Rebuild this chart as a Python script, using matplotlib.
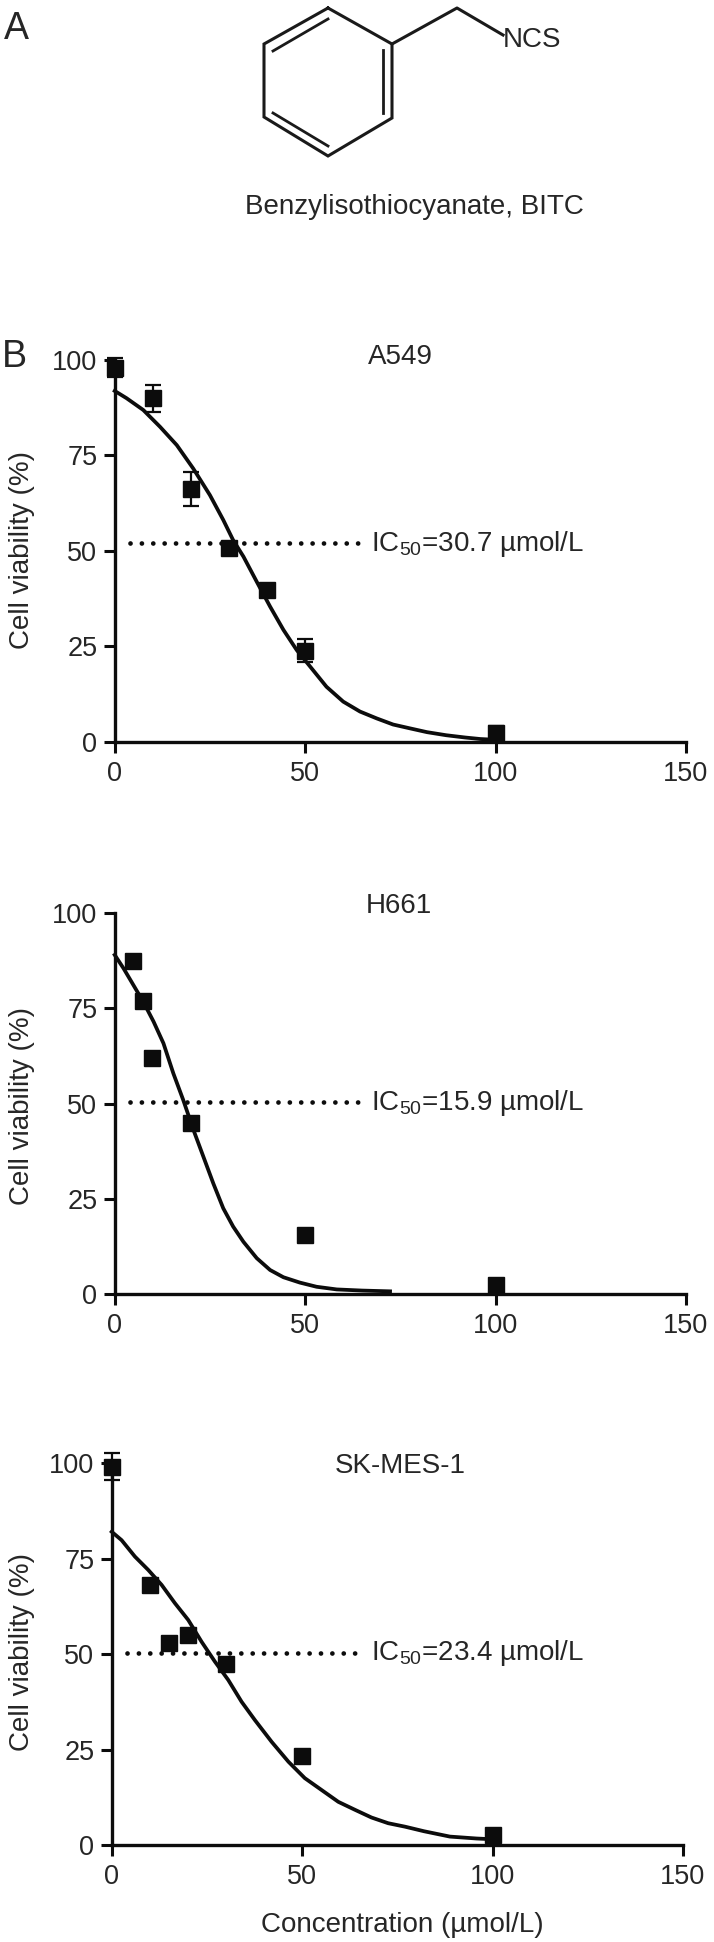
import matplotlib
matplotlib.use("Agg")
import matplotlib.pyplot as plt

plt.rcParams['font.family'] = ['Liberation Sans', 'DejaVu Sans']
plt.rcParams['mathtext.fontset'] = 'custom'
plt.rcParams['mathtext.rm'] = 'Liberation Sans'
plt.rcParams['mathtext.default'] = 'rm'

W = 714
H = 1942
INK = '#0c0c0c'
TXT = '#262626'

# values
a549_x = [0, 10, 20, 30, 40, 50, 100]
a549_y = [98, 90, 66.2, 50.7, 39.7, 23.8, 2.2]
a549_err = [2.5, 3.5, 4.5, 1, 1, 3, 2]
a549_fit_x = [0, 3.1, 7.5, 11.9, 16.3, 20.6, 25, 28.5, 31.1, 33.8, 37.3, 40.8, 44.3, 47.8, 51.3,
              55.6, 60, 64.4, 68.8, 73.1, 77.5, 82, 87, 92, 96, 100]
a549_fit_y = [91.9, 90, 86.9, 82.5, 77.7, 71.6, 64.6, 58.1, 52.8, 48.5, 41.9, 35.4, 29.3, 24, 19.7,
              14.4, 10.5, 7.9, 6.1, 4.5, 3.5, 2.5, 1.7, 1.1, 0.7, 0.5]
a549_ic = 52

h661_x = [4.7, 7.3, 9.8, 20, 50, 100]
h661_y = [87.5, 76.8, 62, 45, 15.5, 2.4]
h661_err = [0.5, 1, 1, 1, 1, 1.5]
h661_fit_x = [0, 2.3, 4.9, 7.5, 10.2, 12.8, 15.4, 18, 20.7, 23.3, 25.9, 28.5, 31.1, 33.8, 37.3,
              40.8, 44.3, 48.6, 53, 58.3, 65, 72.3]
h661_fit_y = [89, 85.5, 81.1, 76.7, 71.5, 65.8, 57.9, 50.9, 43, 36, 29, 22.5, 17.7, 13.7, 9.4,
              6.3, 4.4, 3, 1.9, 1.2, 0.9, 0.7]
h661_ic = 50.5

sk_x = [0, 10, 15, 20, 30, 50, 100]
sk_y = [99, 68, 52.8, 55, 47.5, 23.3, 2.5]
sk_err = [3.5, 1, 1.5, 1, 1, 1, 1]
sk_fit_x = [0, 2.6, 6.1, 9.6, 13.1, 16.6, 20.1, 23.6, 27.1, 30.6, 34.1, 37.6, 42, 46.4, 50.7,
            55.1, 59.5, 63.9, 68.2, 72.6, 77, 82, 88.8, 95.8, 100]
sk_fit_y = [82, 79.8, 75.5, 72, 68.1, 63.3, 58.9, 53.2, 48, 43.2, 37.5, 32.7, 27, 21.8, 17.5,
            14.4, 11.3, 9.2, 7.2, 5.7, 4.8, 3.6, 2.2, 1.7, 1.5]
sk_ic = 50.3

x_ticks = [0, 50, 100, 150]
y_ticks = [0, 25, 50, 75, 100]

# ring and side chain of the molecule, in picture pixels
ring = [(328, 8), (392, 44), (392, 118), (328, 156), (264, 117), (264, 44), (328, 8)]
inner_bonds = [[(273, 51), (328, 19)], [(383, 50), (383, 113)], [(273, 113), (328, 146)]]
side_chain = [(392, 44), (457, 8), (503, 35)]

fig = plt.figure(figsize=(W / 100, H / 100), dpi=100, facecolor='white')

over = fig.add_axes([0, 0, 1, 1])
over.set_xlim(0, W)
over.set_ylim(H, 0)
over.axis('off')


def panel(x0, x150, ytop, ybot, xs, ys, errs, fit_x, fit_y, ic, ic_range):
    ax = fig.add_axes([x0 / W, 1 - ybot / H, (x150 - x0) / W, (ybot - ytop) / H])
    ax.set_xlim(0, 150)
    ax.set_ylim(0, 100)
    ax.patch.set_alpha(0)
    for s in ['top', 'right']:
        ax.spines[s].set_visible(False)
    for s in ['left', 'bottom']:
        ax.spines[s].set_linewidth(2.4)
        ax.spines[s].set_color(INK)
    ax.set_xticks(x_ticks)
    ax.set_yticks(y_ticks)
    ax.tick_params(length=8, width=2.2, color=INK, labelsize=19.5, labelcolor=TXT)
    ax.tick_params(axis='x', pad=6)
    ax.tick_params(axis='y', pad=4.5)
    ax.plot(fit_x, fit_y, color=INK, lw=2.7, clip_on=False, zorder=3)
    ax.plot(ic_range, [ic, ic], color=INK, lw=3.4, clip_on=False, zorder=3,
            linestyle=(0, (0.01, 2.4)), dash_capstyle='round')
    ax.errorbar(xs, ys, yerr=errs, fmt='s', ms=12, color=INK, ecolor=INK, elinewidth=1.6,
                capsize=6, capthick=1.6, clip_on=False, zorder=4)
    return ax


panel(114.7, 686, 360, 741.7, a549_x, a549_y, a549_err, a549_fit_x, a549_fit_y, a549_ic, [4, 64])
panel(114.7, 686, 913, 1294, h661_x, h661_y, h661_err, h661_fit_x, h661_fit_y, h661_ic, [4, 64])
panel(111.7, 683, 1463, 1845, sk_x, sk_y, sk_err, sk_fit_x, sk_fit_y, sk_ic, [3.9, 64])

# molecule
over.plot(*zip(*ring), color='#1a1a1a', lw=2.2, solid_joinstyle='miter')
for b in inner_bonds:
    over.plot(*zip(*b), color='#1a1a1a', lw=2)
over.plot(*zip(*side_chain), color='#1a1a1a', lw=2.2)
over.text(503, 40, 'NCS', fontsize=20, color=TXT, ha='left', va='center')
over.text(414, 207, 'Benzylisothiocyanate, BITC', fontsize=20, color=TXT, ha='center', va='center')

over.text(4, 29, 'A', fontsize=27, color=TXT, ha='left', va='center')
over.text(2, 357, 'B', fontsize=27, color=TXT, ha='left', va='center')

over.text(400, 357, 'A549', fontsize=20, color=TXT, ha='center', va='center')
over.text(399, 906, 'H661', fontsize=20, color=TXT, ha='center', va='center')
over.text(400, 1466, 'SK-MES-1', fontsize=20, color=TXT, ha='center', va='center')

over.text(371, 544, 'IC$_{50}$=30.7 µmol/L', fontsize=20, color=TXT, ha='left', va='center')
over.text(371, 1103, 'IC$_{50}$=15.9 µmol/L', fontsize=20, color=TXT, ha='left', va='center')
over.text(371, 1653, 'IC$_{50}$=23.4 µmol/L', fontsize=20, color=TXT, ha='left', va='center')

for yc in [550, 1106, 1652]:
    over.text(22, yc, 'Cell viability (%)', fontsize=20, color=TXT, rotation=90,
              ha='center', va='center')
over.text(402, 1925, 'Concentration (µmol/L)', fontsize=20, color=TXT, ha='center', va='center')

fig.savefig('out.png', dpi=100, facecolor='white')
